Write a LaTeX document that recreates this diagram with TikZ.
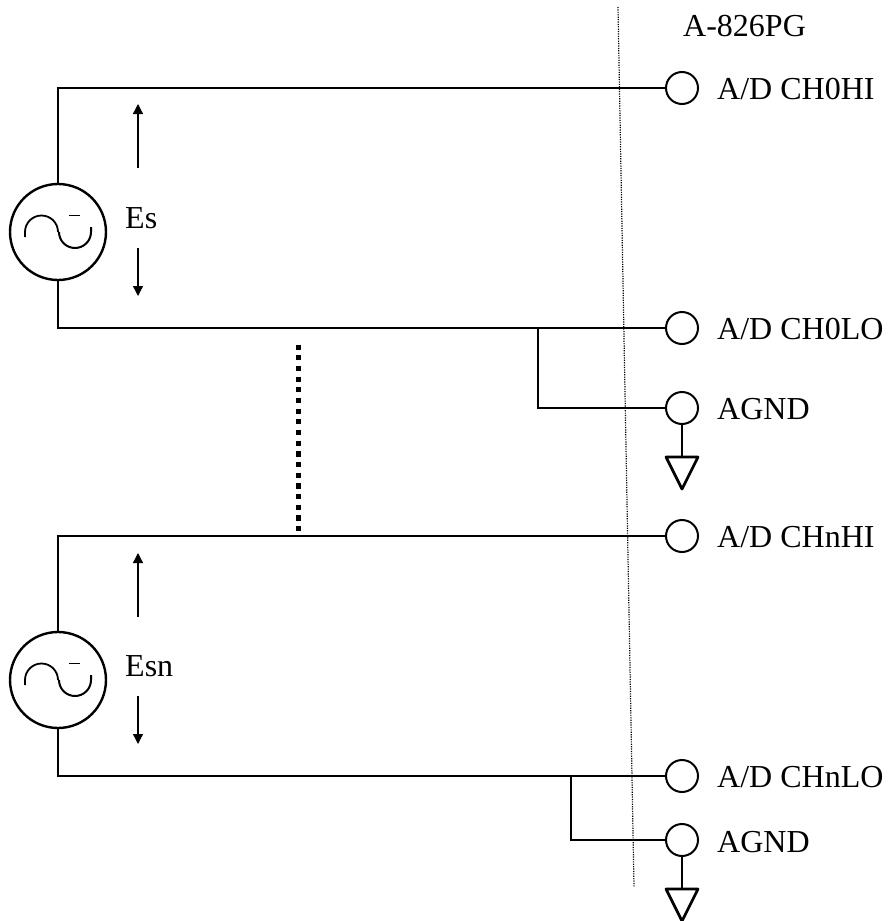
\documentclass[tikz,border=0pt]{standalone}
\usepackage{fontspec}
\setmainfont{Liberation Serif}
\usetikzlibrary{positioning,arrows.meta}
\tikzset{
  term/.style={draw,circle,line width=2pt,minimum size=32pt,inner sep=0pt},
  source/.style={draw,circle,line width=2.4pt,minimum size=96pt,inner sep=0pt},
  wire/.style={line width=2.2pt},
  branch/.style={line width=2.7pt},
  volt/.style={line width=1.3pt,-{Triangle[length=10pt,width=10pt]}},
  lab/.style={font=\fontsize{32}{32}\selectfont,inner sep=0pt,anchor=base west}
}
\begin{document}
\begin{tikzpicture}[x=1pt,y=-1pt]
  \useasboundingbox (0,0) rectangle (887,921);
  \draw[line width=1.2pt,dash pattern=on 1.2pt off 1.2pt] (618,7) -- (634,887);

  \node[source] (s0) at (58,232) {};
  \node[source] (sn) at (58,680) {};
  \foreach \src in {s0,sn}{
    \draw[line width=1.8pt] ([shift={(-33,5)}]\src.center) -- ++(0,-5) arc (180:0:16.5pt);
    \draw[line width=2pt] ([shift={(1,0)}]\src.center) arc (180:360:16pt) -- ++(0,-5);
    \draw[line width=1pt] ([shift={(11,-17)}]\src.center) -- ++(11,0);
  }

  \node[term] (t1) at (682,88) {};
  \node[term] (t2) at (682,328) {};
  \node[term] (t3) at (682,408) {};
  \node[term] (t4) at (682,536) {};
  \node[term] (t5) at (682,776) {};
  \node[term] (t6) at (682,840) {};

  \node[lab] (l1) at (717,99) {A/D CH0HI};
  \node[lab] (l2) at (717,339) {A/D CH0LO};
  \node[lab] (l3) at (717,419) {AGND};
  \node[lab] (l4) at (717,547) {A/D CHnHI};
  \node[lab] (l5) at (717,787) {A/D CHnLO};
  \node[lab] (l6) at (717,852) {AGND};
  \node[lab] (board) at (683,36) {A-826PG};
  \node[lab] (es) at (125,228) {Es};
  \node[lab] (esn) at (125,676) {Esn};

  \draw[wire] (s0.north) |- (t1.west);
  \draw[wire] (s0.south) |- (t2.west);
  \draw[wire] (sn.north) |- (t4.west);
  \draw[wire] (sn.south) |- (t5.west);

  \coordinate (j1) at (538,328);
  \coordinate (j2) at (571,776);
  \draw[branch] (j1) |- (t3.west);
  \draw[branch] (j2) |- (t6.west);

  \coordinate (d1) at (298,344.5);
  \coordinate (d2) at (298,531);
  \draw[line width=5pt,dash pattern=on 5.3pt off 5.37pt] (d1) -- (d2);

  \draw[volt] (138,168) -- (138,104);
  \draw[volt] (138,248) -- (138,296);
  \draw[volt] (138,617) -- (138,553);
  \draw[volt] (138,696) -- (138,744);

  \foreach \t/\g in {t3/g1,t6/g2}{
    \draw[branch] (\t.south) -- ++(0,32) coordinate (\g);
    \draw[branch,line join=round] (\g) ++(-16,0) -- ++(32,0) -- ++(-16,32) -- cycle;
  }
\end{tikzpicture}
\end{document}
